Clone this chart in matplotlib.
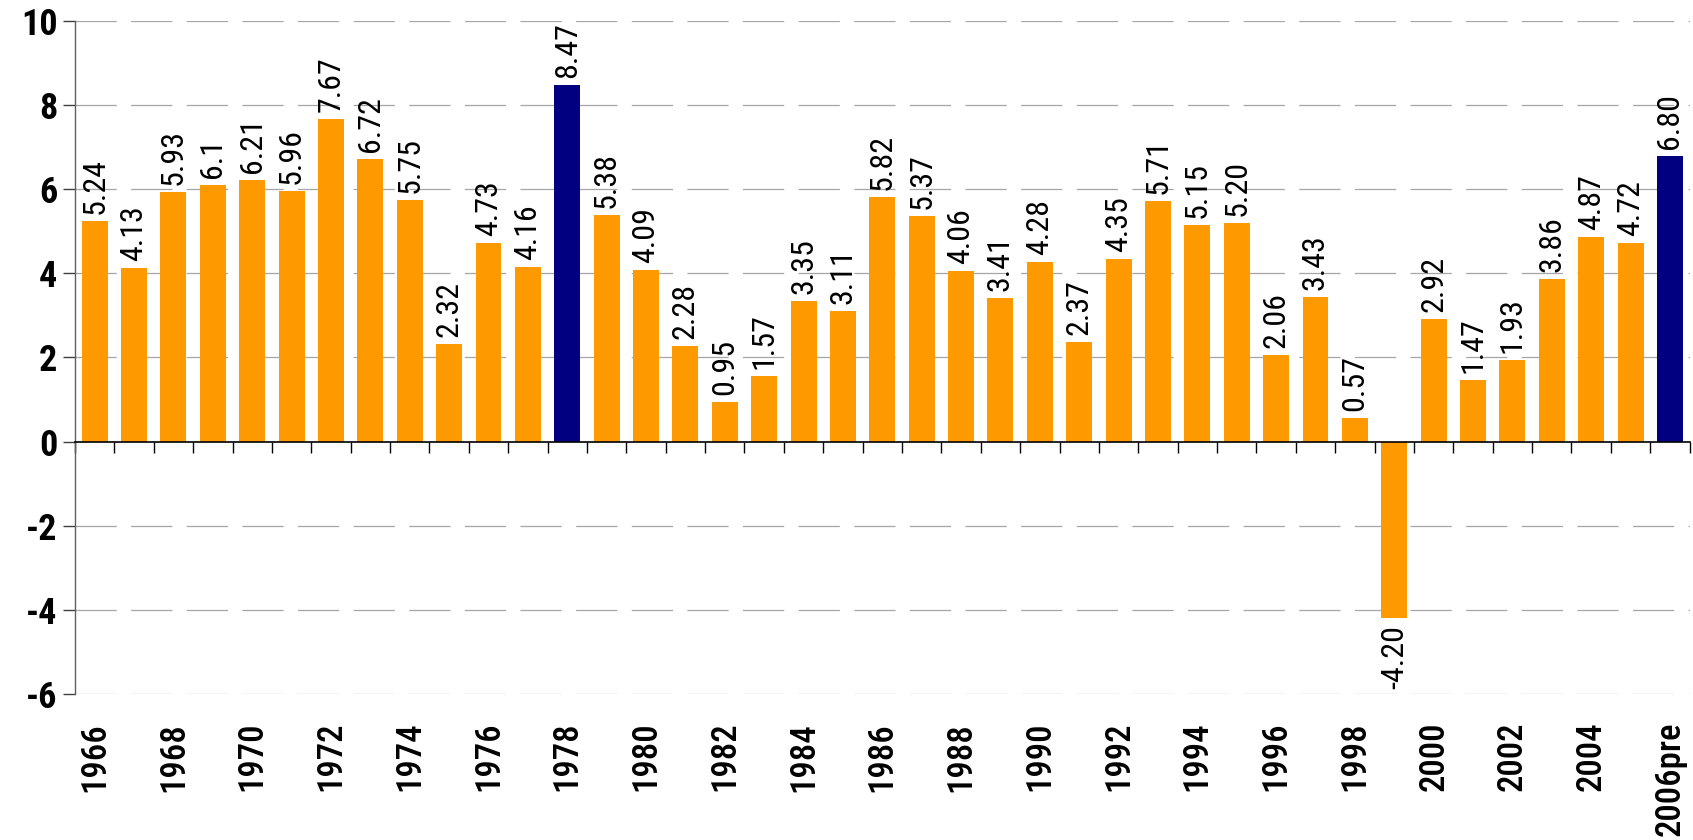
import matplotlib
matplotlib.use('Agg')
import matplotlib.pyplot as plt
from matplotlib.transforms import blended_transform_factory, offset_copy

years = ['1966', '1967', '1968', '1969', '1970', '1971', '1972', '1973', '1974', '1975',
         '1976', '1977', '1978', '1979', '1980', '1981', '1982', '1983', '1984', '1985',
         '1986', '1987', '1988', '1989', '1990', '1991', '1992', '1993', '1994', '1995',
         '1996', '1997', '1998', '1999', '2000', '2001', '2002', '2003', '2004', '2005',
         '2006pre']
values = [5.24, 4.13, 5.93, 6.1, 6.21, 5.96, 7.67, 6.72, 5.75, 2.32,
          4.73, 4.16, 8.47, 5.38, 4.09, 2.28, 0.95, 1.57, 3.35, 3.11,
          5.82, 5.37, 4.06, 3.41, 4.28, 2.37, 4.35, 5.71, 5.15, 5.20,
          2.06, 3.43, 0.57, -4.20, 2.92, 1.47, 1.93, 3.86, 4.87, 4.72,
          6.80]
value_labels = ['5.24', '4.13', '5.93', '6.1', '6.21', '5.96', '7.67', '6.72', '5.75', '2.32',
                '4.73', '4.16', '8.47', '5.38', '4.09', '2.28', '0.95', '1.57', '3.35', '3.11',
                '5.82', '5.37', '4.06', '3.41', '4.28', '2.37', '4.35', '5.71', '5.15', '5.20',
                '2.06', '3.43', '0.57', '-4.20', '2.92', '1.47', '1.93', '3.86', '4.87', '4.72',
                '6.80']
highlight = ['1978', '2006pre']
y_ticks = [-6, -4, -2, 0, 2, 4, 6, 8, 10]

plt.rcParams['font.family'] = ['Roboto Condensed', 'DejaVu Sans']

fig = plt.figure(figsize=(16.93, 8.40), dpi=100)
ax = fig.add_axes([0.0443, 0.174, 0.9537, 0.801])

x = list(range(len(years)))
colors = ['#000080' if y in highlight else '#ff9900' for y in years]
ax.bar(x, values, width=0.66, color=colors, zorder=3)

ax.set_xlim(-0.5, len(years) - 0.5)
ax.set_ylim(-6, 10)
ax.set_yticks(y_ticks)
ax.set_yticklabels([str(v) for v in y_ticks], fontsize=26, fontweight='bold')
ax.tick_params(axis='y', direction='out', length=8.6, width=1, color='#404040', pad=4)

for v in y_ticks:
    if v != 0:
        ax.axhline(v, color='#a6a6a6', lw=0.9, dashes=(33, 11.5), zorder=1)

ax.spines['top'].set_visible(False)
ax.spines['right'].set_visible(False)
ax.spines['left'].set_color('#606060')
ax.spines['left'].set_linewidth(1)
ax.spines['bottom'].set_position(('data', 0))
ax.spines['bottom'].set_color('black')
ax.spines['bottom'].set_linewidth(1.2)
ax.spines['bottom'].set_zorder(4)

ax.set_xticks([i - 0.5 for i in range(len(years) + 1)])
ax.set_xticklabels([])
ax.tick_params(axis='x', direction='out', length=8, width=1, color='black')

# year labels under the axes, every other year
trans = blended_transform_factory(ax.transData, ax.transAxes)
trans = offset_copy(trans, fig=fig, y=-28, units='dots')
for i, yr in enumerate(years):
    if i % 2 == 0:
        ax.text(i, 0, yr, transform=trans, rotation=90, ha='center', va='top',
                fontsize=25, fontweight='medium')

# value labels
for i, (v, lab) in enumerate(zip(values, value_labels)):
    if v >= 0:
        ax.annotate(lab, (i, v), xytext=(0, 5), textcoords='offset points',
                    rotation=90, ha='center', va='bottom', fontsize=23)
    else:
        ax.annotate(lab, (i, v), xytext=(0, -5), textcoords='offset points',
                    rotation=90, ha='center', va='top', fontsize=23)

fig.savefig('out.png', dpi=100)
